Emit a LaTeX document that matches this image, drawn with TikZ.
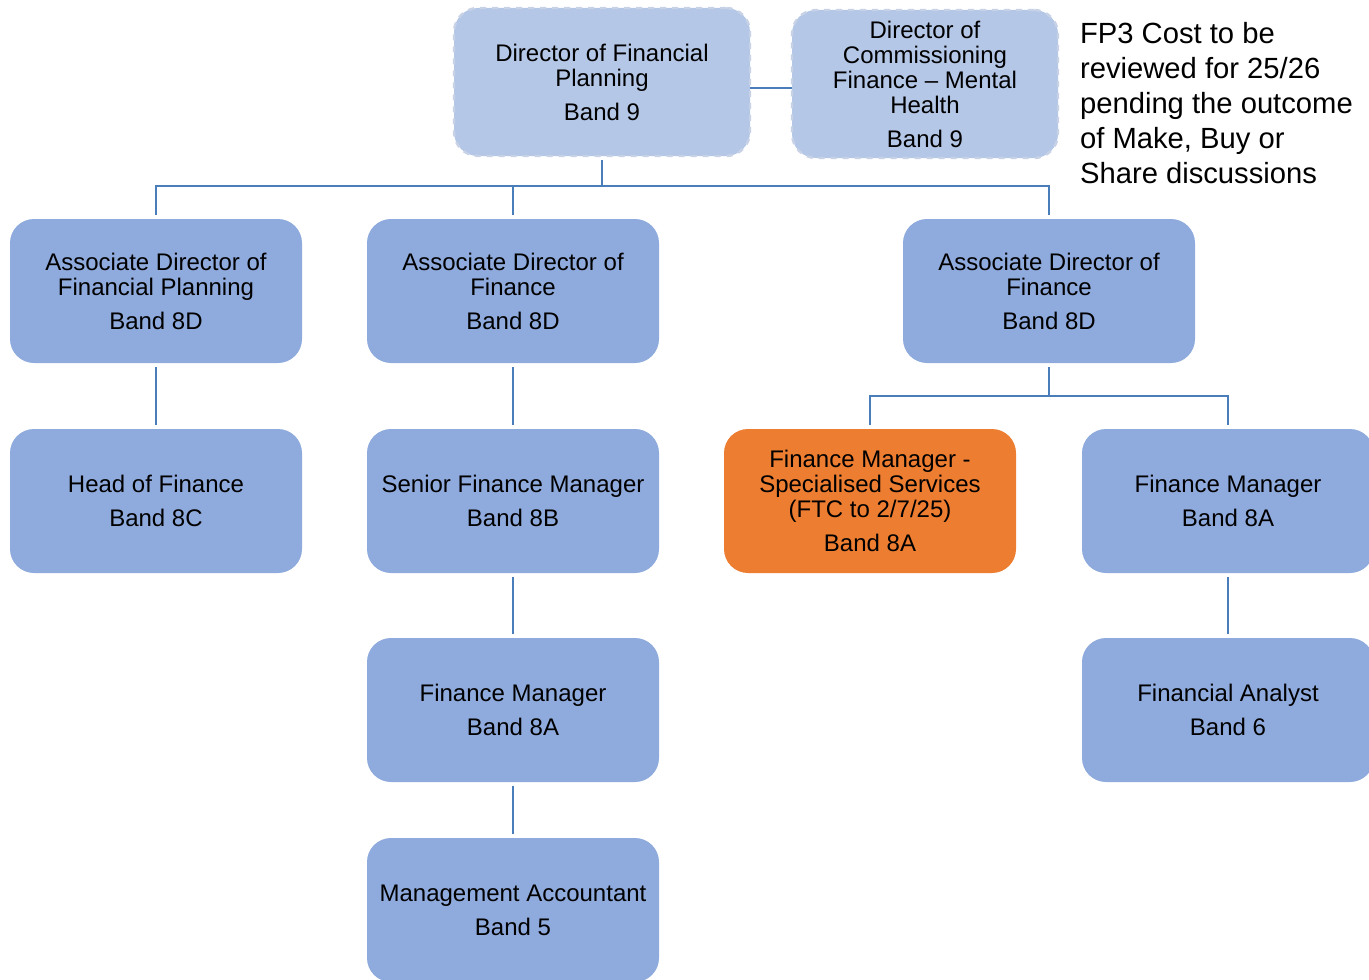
\documentclass[tikz,border=0pt]{standalone}
\usepackage{fontspec}
\setmainfont{Liberation Sans}
\usepackage{tikz}
\usetikzlibrary{positioning, calc}
\usepackage{xcolor}
\definecolor{boxblue}{RGB}{143,170,220}
\definecolor{boxpale}{RGB}{180,199,231}
\definecolor{boxedge}{RGB}{200,210,230}
\definecolor{boxorange}{RGB}{237,125,49}
\definecolor{linkblue}{RGB}{74,126,187}
\tikzset{
    % Org chart boxes
    postbox/.style={rectangle, rounded corners=12pt, fill=#1, draw=none,
                minimum width=146pt, minimum height=72pt, align=center,
                outer sep=2pt, font=\fontsize{12}{12.5}\selectfont},
    postbox/.default=boxblue,
    topbox/.style={postbox=boxpale, draw=boxedge, dashed, line width=1.2pt,
                minimum width=148pt, minimum height=74pt},
    % Reporting lines
    orgline/.style={draw=linkblue, line width=1.4pt},
    sidenote/.style={align=left, font=\fontsize{14.6}{17.5}\selectfont},
}

\begin{document}
\begin{tikzpicture}[x=0.5pt, y=-0.5pt]
\useasboundingbox (0,0) rectangle (1369,979);

% Directors
\node[topbox] (dfp) at (602,82) {Director of Financial\\Planning\\[4.5pt]Band 9};
\node[topbox, minimum width=133pt] (dcf) at (925,84)
    {Director of\\Commissioning\\Finance -- Mental\\Health\\[4.5pt]Band 9};
\node[sidenote, anchor=west] (fpnote) at (1073,103)
    {FP3 Cost to be\\reviewed for 25/26\\pending the outcome\\of Make, Buy or\\Share discussions};

% Associate directors
\node[postbox] (adfp) at (156,291) {Associate Director of\\Financial Planning\\[4.5pt]Band 8D};
\node[postbox] (adfa) at (513,291) {Associate Director of\\Finance\\[4.5pt]Band 8D};
\node[postbox] (adfb) at (1049,291) {Associate Director of\\Finance\\[4.5pt]Band 8D};

% Third row
\node[postbox] (hof)  at (156,501) {Head of Finance\\[4.5pt]Band 8C};
\node[postbox] (sfm)  at (513,501) {Senior Finance Manager\\[4.5pt]Band 8B};
\node[postbox=boxorange] (fmss) at (870,501)
    {Finance Manager -\\Specialised Services\\(FTC to 2/7/25)\\[4.5pt]Band 8A};
\node[postbox] (fmb)  at (1228,501) {Finance Manager\\[4.5pt]Band 8A};

% Lower rows
\node[postbox] (fma)  at (513,710) {Finance Manager\\[4.5pt]Band 8A};
\node[postbox] (fan)  at (1228,710) {Financial Analyst\\[4.5pt]Band 6};
\node[postbox] (mac)  at (513,910) {Management Accountant\\[4.5pt]Band 5};

\coordinate (bus)  at (602,186);
\coordinate (busb) at (1049,396);

\draw[orgline, shorten <=-2pt, shorten >=-2pt] (dfp.east |- 0,88) -- (dcf.west |- 0,88);
\draw[orgline] (dfp.south) -- (bus) -| (adfp.north);
\draw[orgline] (bus) -| (adfb.north);
\draw[orgline] (bus -| adfa.north) -- (adfa.north);

\draw[orgline] (adfp) -- (hof);
\draw[orgline] (adfa) -- (sfm);
\draw[orgline] (sfm) -- (fma);
\draw[orgline] (fma) -- (mac);

\draw[orgline] (adfb.south) -- (busb) -| (fmss.north);
\draw[orgline] (busb) -| (fmb.north);
\draw[orgline] (fmb) -- (fan);
\end{tikzpicture}
\end{document}
